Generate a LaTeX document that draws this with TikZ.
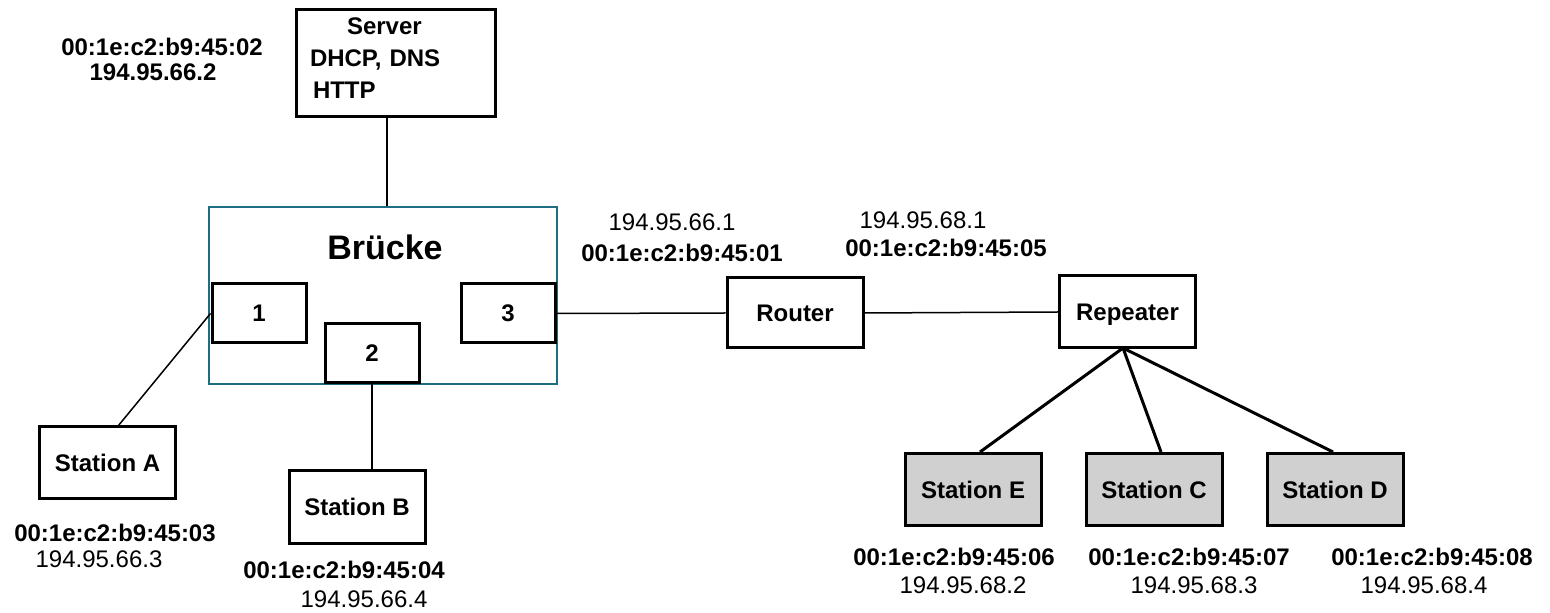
\documentclass[tikz,border=0pt]{standalone}
\usepackage{fontspec}
\setmainfont{Liberation Sans}
\definecolor{bridgeteal}{RGB}{28,110,128}
\definecolor{stationgray}{RGB}{208,208,208}

\begin{document}
\begin{tikzpicture}[x=0.5pt, y=-0.5pt,
        every node/.style={font=\fontsize{12}{16}\selectfont},
        box/.style={draw, line width=1.5pt, font=\fontsize{12}{16}\selectfont\bfseries},
        station/.style={box, minimum width=68pt, minimum height=36pt},
        grey/.style={station, fill=stationgray},
        port/.style={box, minimum width=47pt, minimum height=29.5pt},
        mac/.style={font=\fontsize{12}{16}\selectfont\bfseries},
        link/.style={line width=0.75pt},
        fat/.style={line width=1.5pt}]
            \useasboundingbox (0, 0) rectangle (1550, 613);

            % server and bridge
            \node[box, minimum width=99.5pt, minimum height=53.5pt] (server) at (395.5, 63.5) {};
            \node[align=left, text width=90pt, font=\fontsize{12}{16}\selectfont\bfseries] (serverinfo) at (400, 58) { \hspace*{18.5pt}Server\\DHCP, DNS\\\hspace*{1.5pt}HTTP };
            \node[mac] (srvmac) at (162, 47) { 00:1e:c2:b9:45:02 };
            \node[mac] (srvip) at (153, 72) { 194.95.66.2 };

            \node[draw=bridgeteal, line width=1.4pt, minimum width=174pt, minimum height=88.5pt] (bridge) at (383, 295.5) {};
            \node[font=\fontsize{17}{20}\selectfont\bfseries] (bridgename) at (385, 247) { Brücke };
            \node[port] (port1) at (259, 313.5) { 1 };
            \node[port] (port2) at (372, 353) { 2 };
            \node[port] (port3) at (508, 313.5) { 3 };

            % stations A and B
            \node[station] (staA) at (107.5, 463) { Station A };
            \node[mac] (staAmac) at (115, 533) { 00:1e:c2:b9:45:03 };
            \node (staAip) at (99, 559) { 194.95.66.3 };

            \node[station] (staB) at (357, 507) { Station B };
            \node[mac] (staBmac) at (344, 570) { 00:1e:c2:b9:45:04 };
            \node (staBip) at (364, 599) { 194.95.66.4 };

            % router and repeater
            \node[station, minimum height=35pt] (router) at (795, 313) { Router };
            \node (rtip1) at (672, 222) { 194.95.66.1 };
            \node[mac] (rtmac1) at (682, 253) { 00:1e:c2:b9:45:01 };
            \node (rtip2) at (923, 220) { 194.95.68.1 };
            \node[mac] (rtmac2) at (946, 248) { 00:1e:c2:b9:45:05 };

            \node[station, text depth=0pt] (repeater) at (1127.5, 312) { Repeater };
            \coordinate (hub) at (1123, 348);

            % stations E, C, D
            \node[grey] (staE) at (973, 489.5) { Station E };
            \node[grey] (staC) at (1154, 489.5) { Station C };
            \node[grey] (staD) at (1335, 489.5) { Station D };

            \node[mac] (staEmac) at (954, 557) { 00:1e:c2:b9:45:06 };
            \node (staEip) at (963, 585) { 194.95.68.2 };
            \node[mac] (staCmac) at (1189, 557) { 00:1e:c2:b9:45:07 };
            \node (staCip) at (1194, 585) { 194.95.68.3 };
            \node[mac] (staDmac) at (1432, 557) { 00:1e:c2:b9:45:08 };
            \node (staDip) at (1424, 585) { 194.95.68.4 };

            % links
            \draw[link] ([xshift=-4.25pt]server.south) -- ([xshift=-4.25pt]server.south |- bridge.north);
            \draw[link] (port1.west) -- ([xshift=5.5pt]staA.north);
            \draw[link] (port2.south) -- (port2.south |- staB.north);
            \draw[link] (port3.east) -- (router.west);
            \draw[link] (router.east) -- (repeater.west);
            \draw[fat] (hub) -- ([xshift=3.5pt]staE.north);
            \draw[fat] (hub) -- ([xshift=3.5pt]staC.north);
            \draw[fat] (hub) -- ([xshift=-1pt]staD.north);
        \end{tikzpicture}
\end{document}
